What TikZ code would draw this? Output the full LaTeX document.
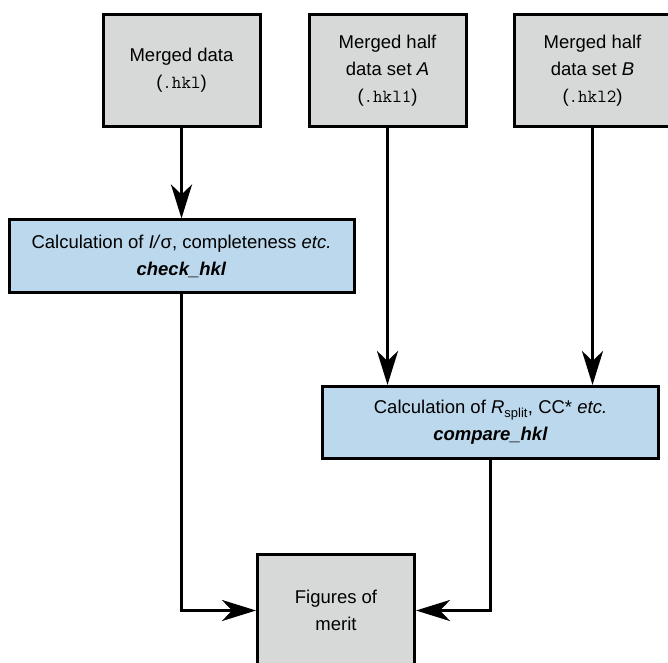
\documentclass[tikz,border=0pt]{standalone}
\usepackage{fontspec}
\setmainfont{Liberation Sans}
\usetikzlibrary{arrows.meta}
\definecolor{boxgray}{HTML}{D7D8D8}
\definecolor{boxblue}{HTML}{BCD8EC}

\begin{document}
\begin{tikzpicture}[x=1pt,y=1pt,
  font=\fontsize{18.5}{27}\selectfont,
  file/.style={draw,line width=3pt,fill=boxgray,align=center,
    minimum width=157pt,minimum height=112pt,inner sep=0pt},
  calc/.style={draw,line width=3pt,fill=boxblue,align=center,
    minimum height=72pt,inner sep=0pt},
  flow/.style={line width=3.5pt,-{Stealth[length=34pt,width=21pt,inset=10pt]}}]
  \useasboundingbox (0,0) rectangle (668,662);
  \node[file] (merged) at (181.5,591.5) {Merged data\\(\texttt{.hkl})};
  \node[file] (halfA) at (387.5,591.5) {Merged half\\data set \textit{A}\\(\texttt{.hkl1})};
  \node[file] (halfB) at (592.5,591.5) {Merged half\\data set \textit{B}\\(\texttt{.hkl2})};
  \node[calc,minimum width=345pt] (check) at (181.5,406)
    {Calculation of \textit{I/}σ, completeness \textit{etc.}\\\textbf{\textit{check\_hkl}}};
  \node[calc,minimum width=336pt] (compare) at (490.5,239.5)
    {Calculation of \textit{R}\textsubscript{split}, CC* \textit{etc.}\\\textbf{\textit{compare\_hkl}}};
  \node[file] (merit) at (336,51.5) {Figures of\\merit};
  \path[flow]
    (merged) edge (check)
    (halfA) edge (halfA |- compare.north)
    (halfB) edge (halfB |- compare.north);
  \draw[flow] (check.south) |- (merit.west);
  \draw[flow] (compare.south) |- (merit.east);
\end{tikzpicture}
\end{document}
